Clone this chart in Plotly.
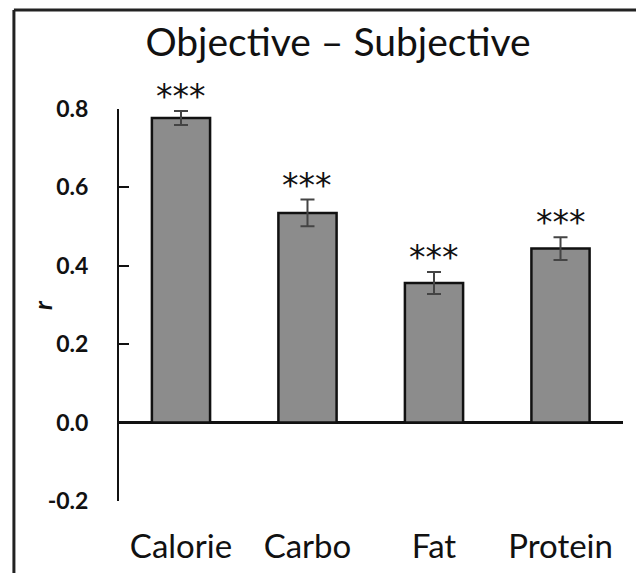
import plotly.graph_objects as go

# Correlation (r) between objective and subjective estimates, per nutrient
categories = ["Calorie", "Carbo", "Fat", "Protein"]
r_values = [0.777, 0.535, 0.356, 0.444]
r_errors = [0.018, 0.034, 0.028, 0.029]
significance = ["***", "***", "***", "***"]
y_ticks = [-0.2, 0.0, 0.2, 0.4, 0.6, 0.8]
y_tick_labels = ["-0.2", "0.0", "0.2", "0.4", "0.6", "0.8"]

FONT = "Lato, 'Open Sans', sans-serif"
STAR_FONT = "'DejaVu Sans', sans-serif"
x_pos = list(range(len(categories)))

fig = go.Figure()
fig.add_trace(go.Bar(
    x=x_pos,
    y=r_values,
    width=0.46,
    marker=dict(color="#8c8c8c", line=dict(color="#111111", width=2.5)),
    error_y=dict(type="data", array=r_errors, visible=True,
                 color="#444444", thickness=2, width=7),
    cliponaxis=False,
    hoverinfo="skip",
))

# significance stars above each error bar
for xi, v, e, s in zip(x_pos, r_values, r_errors, significance):
    fig.add_annotation(
        x=xi, y=v + e, xref="x", yref="y",
        text=s, showarrow=False,
        xanchor="center", yanchor="bottom", yshift=-7,
        font=dict(family=STAR_FONT, size=33, color="#111111"),
    )

# y-axis title "r"
fig.add_annotation(
    x=-0.153, y=0.5, xref="paper", yref="paper",
    text="<b><i>r</i></b>", showarrow=False, textangle=-90,
    xanchor="center", yanchor="middle",
    font=dict(family=FONT, size=25, color="#111111"),
)

# outer frame (left and top edges)
fig.add_shape(type="line", xref="paper", yref="paper",
              x0=-0.2085, x1=-0.2085, y0=-0.19, y1=1.2526,
              line=dict(color="#222222", width=3))
fig.add_shape(type="line", xref="paper", yref="paper",
              x0=-0.2085, x1=1.04, y0=1.2526, y1=1.2526,
              line=dict(color="#222222", width=3))

fig.update_layout(
    width=636, height=573,
    margin=dict(l=119, r=13, t=109, b=72, autoexpand=False),
    paper_bgcolor="white", plot_bgcolor="white",
    showlegend=False,
    title=dict(
        text="Objective – Subjective",
        x=338 / 636, xref="container", xanchor="center",
        y=1 - 42 / 573, yref="container", yanchor="middle",
        font=dict(family=FONT, size=39, color="#111111"),
    ),
    xaxis=dict(
        range=[-0.49, 3.494],
        tickvals=x_pos, ticktext=categories,
        showline=False, ticks="", showgrid=False, zeroline=False,
        tickfont=dict(family=FONT, size=33, color="#111111"),
        ticklabelstandoff=23,
        automargin=False,
    ),
    yaxis=dict(
        range=[-0.2, 0.8],
        tickvals=y_ticks, ticktext=y_tick_labels,
        showline=True, linecolor="#111111", linewidth=2,
        ticks="inside", ticklen=10, tickwidth=2, tickcolor="#111111",
        showgrid=False,
        zeroline=True, zerolinecolor="#111111", zerolinewidth=2.5,
        tickfont=dict(family=FONT, size=23, color="#111111", weight="bold"),
        ticklabelstandoff=24,
        automargin=False,
    ),
)

fig.write_html("out.html")
